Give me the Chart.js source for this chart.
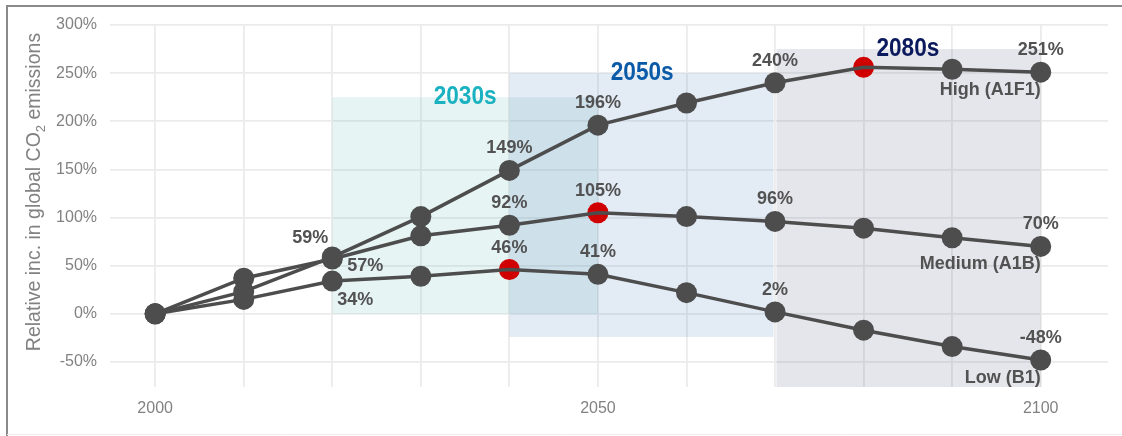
<!DOCTYPE html>
<html>
<head>
<meta charset="utf-8">
<script src="https://cdn.jsdelivr.net/npm/chart.js@4.4.1/dist/chart.umd.min.js"></script>
<style>
html,body{margin:0;padding:0;background:#fff;}
#c{display:block;}
</style>
</head>
<body>
<canvas id="c" width="1122" height="436"></canvas>
<script>
// ---- data ----
const years = [2000, 2010, 2020, 2030, 2040, 2050, 2060, 2070, 2080, 2090, 2100];
const high = [0, 23, 59, 101, 149, 196, 219, 240, 256, 254, 251];
const medium = [0, 37, 57, 81, 92, 105, 101, 96, 89, 79, 70];
const low = [0, 15, 34, 39, 46, 41, 22, 2, -17, -34, -48];
const seriesNames = ['High (A1F1)', 'Medium (A1B)', 'Low (B1)'];
const highlightIdx = [8, 5, 4];           // red point per series
const labelledIdx = [2, 4, 5, 7, 10];     // points with value labels
const xTickLabels = [2000, 2050, 2100];
const yTickValues = [-50, 0, 50, 100, 150, 200, 250, 300];
const periodNames = ['2030s', '2050s', '2080s'];
const periodDecade = [2030, 2050, 2080];
const periodFrom = [2020, 2040, 2070];
const periodTo = [2050, 2070, 2100];
const periodLow = [0, -24, -76];
const periodHigh = [225, 250, 275];

// ---- styles ----
const lineColor = '#4d4d4d';
const redColor = '#d10000';
const periodFill = ['rgba(120,196,196,0.18)', 'rgba(70,120,190,0.15)', 'rgba(95,95,135,0.16)'];
const periodText = ['#1ab2c1', '#0b5aa8', '#0b1a5c'];
const labelColor = '#525252';
const allSeries = [high, medium, low];

const datasets = [];
allSeries.forEach((s, i) => {
  datasets.push({
    label: seriesNames[i] + ' line',
    data: years.map((y, j) => ({x: y, y: s[j]})),
    borderColor: lineColor,
    borderWidth: 3.5,
    pointRadius: 0,
    fill: false,
    tension: 0
  });
});
allSeries.forEach((s, i) => {
  datasets.push({
    label: seriesNames[i],
    data: years.map((y, j) => ({x: y, y: s[j]})),
    showLine: false,
    pointRadius: 10.5,
    pointBorderWidth: 0,
    pointBackgroundColor: years.map((y, j) => j === highlightIdx[i] ? redColor : lineColor),
    pointHoverRadius: 10.5
  });
});

const boxesPlugin = {
  id: 'boxes',
  beforeDatasetsDraw(chart) {
    const {ctx, scales: {x, y}} = chart;
    ctx.save();
    periodNames.forEach((n, i) => {
      const x0 = x.getPixelForValue(periodFrom[i]);
      const x1 = x.getPixelForValue(periodTo[i]);
      const y0 = y.getPixelForValue(periodHigh[i]);
      const y1 = y.getPixelForValue(periodLow[i]);
      ctx.fillStyle = periodFill[i];
      const l = i === 2 ? x0 + 1.5 : x0;
      const r = i === 1 ? x1 - 1.5 : x1;
      ctx.fillRect(l, y0, r - l, y1 - y0);
    });
    ctx.restore();
  },
  afterDatasetsDraw(chart) {
    const {ctx, scales: {x, y}} = chart;
    ctx.save();
    // period titles
    ctx.font = 'bold 26px "Liberation Sans", Arial, sans-serif';
    ctx.textAlign = 'center';
    ctx.textBaseline = 'middle';
    periodNames.forEach((n, i) => {
      ctx.fillStyle = periodText[i];
      const px = x.getPixelForValue(periodDecade[i] + 5);
      const py = y.getPixelForValue(periodHigh[i]);
      ctx.save();
      ctx.translate(px, py);
      ctx.scale(0.87, 1);
      ctx.fillText(n, 0, 0);
      ctx.restore();
    });
    // value labels
    ctx.font = 'bold 18px "Liberation Sans", Arial, sans-serif';
    ctx.fillStyle = labelColor;
    allSeries.forEach((s, i) => {
      const meta = chart.getDatasetMeta(3 + i);
      labelledIdx.forEach(j => {
        const pt = meta.data[j];
        const txt = s[j] + '%';
        if (j === 2) {
          if (i === 0) { ctx.textAlign = 'right'; ctx.fillText(txt, pt.x - 4, pt.y - 19); }
          else if (i === 1) { ctx.textAlign = 'left'; ctx.fillText(txt, pt.x + 15, pt.y + 7); }
          else { ctx.textAlign = 'left'; ctx.fillText(txt, pt.x + 5, pt.y + 19); }
        } else {
          ctx.textAlign = 'center';
          ctx.fillText(txt, pt.x, pt.y - 22);
        }
      });
      // series name
      const last = meta.data[years.length - 1];
      ctx.textAlign = 'right';
      ctx.fillText(seriesNames[i], last.x, last.y + 18);
    });
    ctx.restore();
  },
  afterDraw(chart) {
    const {ctx} = chart;
    ctx.save();
    // y axis title
    ctx.fillStyle = '#828282';
    ctx.textBaseline = 'middle';
    const f1 = '19.5px "Liberation Sans", Arial, sans-serif';
    const f2 = '13px "Liberation Sans", Arial, sans-serif';
    const p1 = 'Relative inc. in global CO', p2 = '2', p3 = ' emissions';
    ctx.font = f1; const w1 = ctx.measureText(p1).width; const w3 = ctx.measureText(p3).width;
    ctx.font = f2; const w2 = ctx.measureText(p2).width;
    const total = w1 + w2 + w3;
    ctx.translate(35, 192);
    ctx.rotate(-Math.PI / 2);
    let sx = -total / 2;
    ctx.textAlign = 'left';
    ctx.font = f1; ctx.fillText(p1, sx, 0); sx += w1;
    ctx.font = f2; ctx.fillText(p2, sx, 6); sx += w2;
    ctx.font = f1; ctx.fillText(p3, sx, 0);
    ctx.restore();
    // frame
    ctx.save();
    ctx.strokeStyle = '#8a8a8a';
    ctx.lineWidth = 2;
    ctx.beginPath();
    ctx.moveTo(7, 436);
    ctx.lineTo(7, 6);
    ctx.lineTo(1122, 6);
    ctx.stroke();
    ctx.strokeStyle = '#ededed';
    ctx.lineWidth = 1;
    ctx.beginPath();
    ctx.moveTo(7, 434.5);
    ctx.lineTo(1122, 434.5);
    ctx.stroke();
    ctx.restore();
  }
};

const bgPlugin = {
  id: 'bg',
  beforeDraw(chart) {
    const {ctx} = chart;
    ctx.save();
    ctx.fillStyle = '#ffffff';
    ctx.fillRect(0, 0, chart.width, chart.height);
    ctx.restore();
  }
};

new Chart(document.getElementById('c'), {
  type: 'line',
  data: {datasets},
  plugins: [bgPlugin, boxesPlugin],
  options: {
    responsive: false,
    animation: false,
    devicePixelRatio: 1,
    layout: {padding: {left: 8, right: 14, top: 25, bottom: 0}},
    plugins: {legend: {display: false}, tooltip: {enabled: false}},
    scales: {
      x: {
        type: 'linear',
        min: 1994.9,
        max: 2107.6,
        afterBuildTicks(scale) { scale.ticks = years.map(v => ({value: v})); },
        afterFit(scale) { scale.height = 49; },
        grid: {color: '#ebebeb', lineWidth: 1.8, drawTicks: false},
        border: {display: false},
        ticks: {
          padding: 12,
          color: '#828282',
          font: {family: '"Liberation Sans", Arial, sans-serif', size: 16},
          maxRotation: 0,
          autoSkip: false,
          callback: (v) => xTickLabels.includes(v) ? String(v) : ''
        }
      },
      y: {
        min: -76,
        max: 300,
        afterBuildTicks(scale) { scale.ticks = yTickValues.map(v => ({value: v})); },
        afterFit(scale) { scale.width = 102; },
        grid: {color: '#ebebeb', lineWidth: 1.8, drawTicks: false},
        border: {display: false},
        ticks: {
          padding: 13,
          color: '#828282',
          font: {family: '"Liberation Sans", Arial, sans-serif', size: 16},
          callback: (v) => v + '%'
        }
      }
    }
  }
});
</script>
</body>
</html>
